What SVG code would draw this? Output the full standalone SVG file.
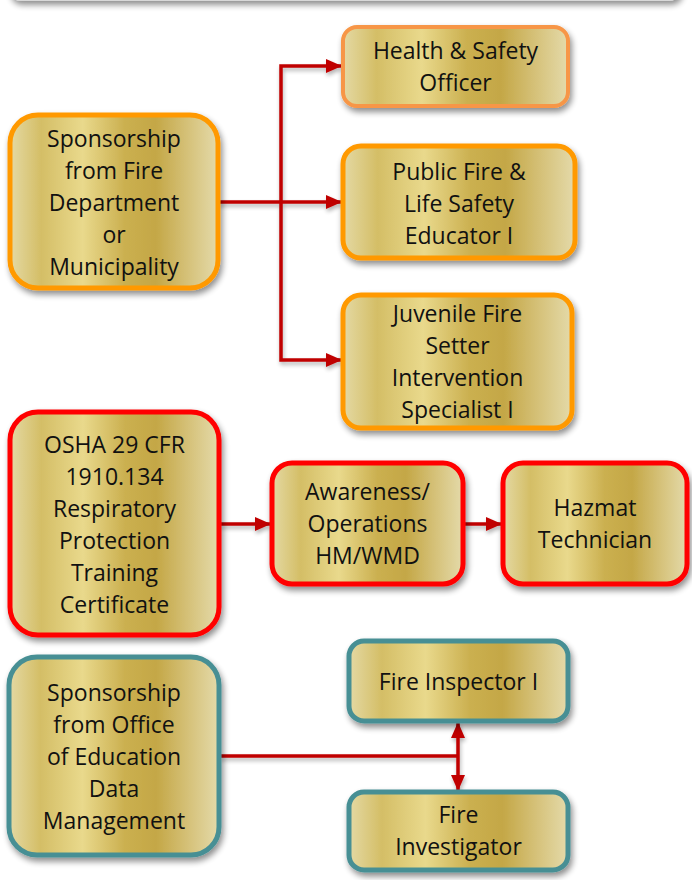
<svg xmlns="http://www.w3.org/2000/svg" width="692" height="880" viewBox="0 0 692 880">
  <defs>
    <linearGradient id="gold" x1="0" y1="0" x2="1" y2="0">
      <stop offset="0" stop-color="#E4D9A4"/>
      <stop offset="0.15" stop-color="#D4BE66"/>
      <stop offset="0.35" stop-color="#E9D98C"/>
      <stop offset="0.55" stop-color="#CBB050"/>
      <stop offset="0.7" stop-color="#C4A746"/>
      <stop offset="0.87" stop-color="#D7C47E"/>
      <stop offset="1" stop-color="#E4DAAA"/>
    </linearGradient>
    <filter id="shadow" x="-20%" y="-20%" width="140%" height="150%">
      <feGaussianBlur in="SourceAlpha" stdDeviation="3"/>
      <feOffset dx="2" dy="4" result="b"/>
      <feComponentTransfer><feFuncA type="linear" slope="0.45"/></feComponentTransfer>
      <feMerge><feMergeNode/><feMergeNode in="SourceGraphic"/></feMerge>
    </filter>
    <filter id="lshadow" x="-10%" y="-10%" width="120%" height="120%">
      <feGaussianBlur in="SourceAlpha" stdDeviation="2"/>
      <feOffset dx="1" dy="3" result="b"/>
      <feComponentTransfer><feFuncA type="linear" slope="0.3"/></feComponentTransfer>
      <feMerge><feMergeNode/><feMergeNode in="SourceGraphic"/></feMerge>
    </filter>
    <marker id="arr" markerUnits="userSpaceOnUse" markerWidth="18" markerHeight="18" refX="15" refY="9" orient="auto">
      <path d="M0,2 L16,9 L0,16 Z" fill="#C00000"/>
    </marker>
    <style>
      .box { fill: url(#gold); filter: url(#shadow); }
      .or { stroke: #FF9900; stroke-width: 5; }
      .lo { stroke: #F79646; stroke-width: 4; }
      .rd { stroke: #FF0000; stroke-width: 5; }
      .tl { stroke: #478F94; stroke-width: 5; }
      .t { font-family: "Open Sans", "Liberation Sans", sans-serif; font-size: 23px; fill: #111; text-anchor: middle; }
      .ln { fill: none; stroke: #C00000; stroke-width: 3.5; }
    </style>
  </defs>
  <rect width="692" height="880" fill="#FFFFFF"/>
  <rect x="10" y="-40" width="670" height="40" rx="10" fill="#FFFFFF" stroke="#DDDDDD" stroke-width="1.5" filter="url(#shadow)"/>

  <g id="connectors" filter="url(#lshadow)">
    <path class="ln" d="M218,202 H341" marker-end="url(#arr)"/>
    <path class="ln" d="M281,202 V66 H341" marker-end="url(#arr)"/>
    <path class="ln" d="M281,202 V360 H341" marker-end="url(#arr)"/>
    <path class="ln" d="M220,524 H270" marker-end="url(#arr)"/>
    <path class="ln" d="M463,524 H501" marker-end="url(#arr)"/>
    <path class="ln" d="M220,756 H458"/>
    <path class="ln" d="M458,756 V723" marker-end="url(#arr)"/>
    <path class="ln" d="M458,756 V790" marker-end="url(#arr)"/>
  </g>

  <g id="health-safety-officer">
    <rect class="box lo" x="343" y="27" width="225" height="79" rx="14"/>
    <text class="t" x="455.5" y="59">Health &amp; Safety</text>
    <text class="t" x="455.5" y="91">Officer</text>
  </g>

  <g id="sponsorship-fire">
    <rect class="box or" x="10" y="115" width="208" height="173" rx="28"/>
    <text class="t" x="114" y="147">Sponsorship</text>
    <text class="t" x="114" y="179">from Fire</text>
    <text class="t" x="114" y="211">Department</text>
    <text class="t" x="114" y="243">or</text>
    <text class="t" x="114" y="275">Municipality</text>
  </g>

  <g id="public-fire-educator">
    <rect class="box or" x="343" y="146" width="232" height="112" rx="18"/>
    <text class="t" x="459" y="180">Public Fire &amp;</text>
    <text class="t" x="459" y="212">Life Safety</text>
    <text class="t" x="459" y="244">Educator I</text>
  </g>

  <g id="juvenile-fire-setter">
    <rect class="box or" x="343" y="295" width="229" height="133" rx="18"/>
    <text class="t" x="457.5" y="322">Juvenile Fire</text>
    <text class="t" x="457.5" y="354">Setter</text>
    <text class="t" x="457.5" y="386">Intervention</text>
    <text class="t" x="457.5" y="418">Specialist I</text>
  </g>

  <g id="osha">
    <rect class="box rd" x="10" y="412" width="209" height="223" rx="28"/>
    <text class="t" x="114.5" y="453">OSHA 29 CFR</text>
    <text class="t" x="114.5" y="485">1910.134</text>
    <text class="t" x="114.5" y="517">Respiratory</text>
    <text class="t" x="114.5" y="549">Protection</text>
    <text class="t" x="114.5" y="581">Training</text>
    <text class="t" x="114.5" y="613">Certificate</text>
  </g>

  <g id="awareness-operations">
    <rect class="box rd" x="272" y="463" width="191" height="121" rx="20"/>
    <text class="t" x="367.5" y="500">Awareness/</text>
    <text class="t" x="367.5" y="532">Operations</text>
    <text class="t" x="367.5" y="564">HM/WMD</text>
  </g>

  <g id="hazmat-technician">
    <rect class="box rd" x="503" y="463" width="184" height="121" rx="20"/>
    <text class="t" x="595" y="516">Hazmat</text>
    <text class="t" x="595" y="548">Technician</text>
  </g>

  <g id="sponsorship-office">
    <rect class="box tl" x="9" y="657" width="210" height="198" rx="28"/>
    <text class="t" x="114" y="701">Sponsorship</text>
    <text class="t" x="114" y="733">from Office</text>
    <text class="t" x="114" y="765">of Education</text>
    <text class="t" x="114" y="797">Data</text>
    <text class="t" x="114" y="829">Management</text>
  </g>

  <g id="fire-inspector">
    <rect class="box tl" x="349" y="641" width="219" height="80" rx="15"/>
    <text class="t" x="458.5" y="690">Fire Inspector I</text>
  </g>

  <g id="fire-investigator">
    <rect class="box tl" x="349" y="792" width="219" height="78" rx="15"/>
    <text class="t" x="458.5" y="823">Fire</text>
    <text class="t" x="458.5" y="855">Investigator</text>
  </g>
</svg>
